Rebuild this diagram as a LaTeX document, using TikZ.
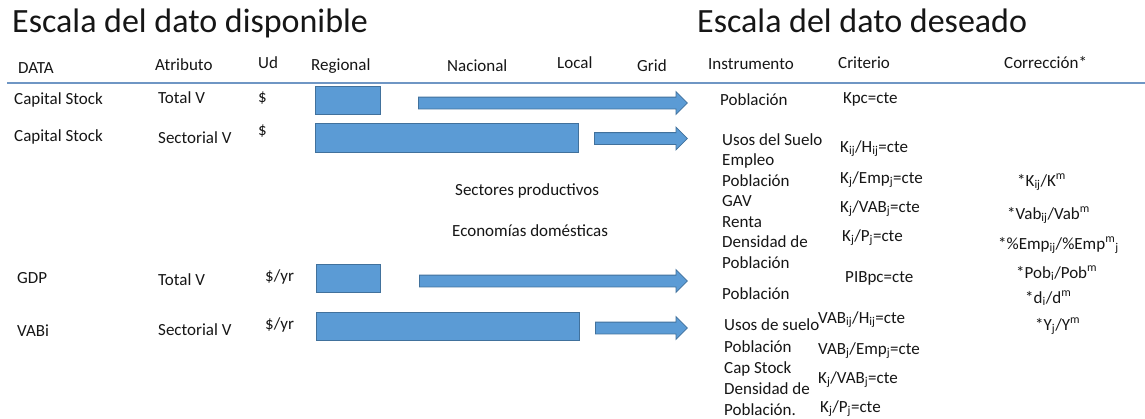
\documentclass[tikz,border=0pt]{standalone}
\usepackage{fontspec}
\setmainfont{Carlito}
\usetikzlibrary{shapes.arrows}
\definecolor{BarFill}{HTML}{5B9BD5}
\definecolor{BarEdge}{HTML}{41719C}
\definecolor{RuleBlue}{HTML}{6F96C4}
\definecolor{TextDark}{HTML}{161616}
\tikzset{
  ttl/.style={anchor=base west, inner sep=0pt, font=\fontsize{34}{37}\selectfont, text=TextDark},
  lbl/.style={anchor=base west, inner sep=0pt, font=\fontsize{17}{20}\selectfont, text=TextDark},
  bar/.style={draw=BarEdge, fill=BarFill, line width=0.8pt, anchor=north west, inner sep=0pt},
  barrow/.style={single arrow, draw=BarEdge, fill=BarFill, line width=0.8pt, anchor=tail,
    inner xsep=0pt, inner ysep=5.5pt, single arrow head extend=5.5pt,
    single arrow tip angle=90, single arrow head indent=0pt},
  rule/.style={draw=RuleBlue, line width=1.5pt},
}

\begin{document}
\begin{tikzpicture}[x=1pt, y=-1pt]
    \useasboundingbox[fill=white] (0,0) rectangle (1145,418);
    % titles
    \node[ttl] (tdisp) at (12,32) {Escala del dato disponible};
    \node[ttl] (tdes) at (697,32) {Escala del dato deseado};
    % header row
    \node[lbl] (hdata) at (18,73) {DATA};
    \node[lbl] (hattr) at (155,70) {Atributo};
    \node[lbl] (hud) at (258,68) {Ud};
    \node[lbl] (hreg) at (311,70) {Regional};
    \node[lbl] (hnac) at (447,71) {Nacional};
    \node[lbl] (hloc) at (557,68) {Local};
    \node[lbl] (hgrid) at (637,71) {Grid};
    \node[lbl] (hinst) at (708,69) {Instrumento};
    \node[lbl] (hcrit) at (838,68) {Criterio};
    \node[lbl] (hcorr) at (1004,68) {Corrección*};
    \coordinate (rulel) at (7,83);
    \coordinate (ruler) at (1145,83);
    \draw[rule] (rulel) -- (ruler);
    % row 1: capital stock, total
    \node[lbl] (d1) at (14,104) {Capital Stock};
    \node[lbl] (a1) at (158,103) {Total V};
    \node[lbl] (u1) at (258,102) {\$};
    \node[bar, minimum width=65pt, minimum height=28pt] (bar1) at (315,86) {};
    \node[barrow, minimum height=269pt] (arr1) at (418,103) {};
    \node[lbl] (i1) at (720,105) {Población};
    \node[lbl] (c1) at (843,103) {Kpc=cte};
    % row 2: capital stock, sectorial
    \node[lbl] (d2) at (14,141) {Capital Stock};
    \node[lbl] (a2) at (158,143) {Sectorial V};
    \node[lbl] (u2) at (258,135) {\$};
    \node[bar, minimum width=263pt, minimum height=29pt] (bar2) at (315,123) {};
    \node[barrow, minimum height=93pt] (arr2) at (594,138.5) {};
    \node[lbl] (i2a) at (722,145) {Usos del Suelo};
    \node[lbl] (i2b) at (722,165) {Empleo};
    \node[lbl] (i2c) at (722,186) {Población};
    \node[lbl] (i2d) at (722,206) {GAV};
    \node[lbl] (i2e) at (722,227) {Renta};
    \node[lbl] (i2f) at (722,247) {Densidad de};
    \node[lbl] (i2g) at (722,268) {Población};
    \node[lbl] (c2a) at (840,152) {K\textsubscript{ij}/H\textsubscript{ij}=cte};
    \node[lbl] (c2b) at (840,183) {K\textsubscript{j}/Emp\textsubscript{j}=cte};
    \node[lbl] (c2c) at (840,212) {K\textsubscript{j}/VAB\textsubscript{j}=cte};
    \node[lbl] (c2d) at (842,241) {K\textsubscript{j}/P\textsubscript{j}=cte};
    \node[lbl] (sprod) at (455,195) {Sectores productivos};
    \node[lbl] (ecdom) at (452,236) {Economías domésticas};
    % row 3: gdp, total
    \node[lbl] (d3) at (17,283) {GDP};
    \node[lbl] (a3) at (158,285) {Total V};
    \node[lbl] (u3) at (265,281) {\$/yr};
    \node[bar, minimum width=64pt, minimum height=28pt] (bar3) at (316,264) {};
    \node[barrow, minimum height=268pt] (arr3) at (419,281) {};
    \node[lbl] (c3) at (845,282) {PIBpc=cte};
    \node[lbl] (i3) at (722,299) {Población};
    % row 4: vab, sectorial
    \node[lbl] (d4) at (17,336) {VABi};
    \node[lbl] (a4) at (158,335) {Sectorial V};
    \node[lbl] (u4) at (265,329) {\$/yr};
    \node[bar, minimum width=263pt, minimum height=28pt] (bar4) at (316,312) {};
    \node[barrow, minimum height=92pt] (arr4) at (595,328) {};
    \node[lbl] (i4a) at (724,330) {Usos de suelo};
    \node[lbl] (i4b) at (724,352) {Población};
    \node[lbl] (i4c) at (724,373) {Cap Stock};
    \node[lbl] (i4d) at (724,394) {Densidad de};
    \node[lbl] (i4e) at (724,415) {Población.};
    \node[lbl] (c4a) at (818,323) {VAB\textsubscript{ij}/H\textsubscript{ij}=cte};
    \node[lbl] (c4b) at (818,354) {VAB\textsubscript{j}/Emp\textsubscript{j}=cte};
    \node[lbl] (c4c) at (818,383) {K\textsubscript{j}/VAB\textsubscript{j}=cte};
    \node[lbl] (c4d) at (820,412) {K\textsubscript{j}/P\textsubscript{j}=cte};
    % corrections
    \node[lbl] (k1) at (1017,186) {*K\textsubscript{ij}/K\textsuperscript{m}};
    \node[lbl] (k2) at (1007,219) {*Vab\textsubscript{ij}/Vab\textsuperscript{m}};
    \node[lbl] (k3) at (998,249) {*\%Emp\textsubscript{ij}/\%Emp\textsuperscript{m}\textsubscript{j}};
    \node[lbl] (k4) at (1016,278) {*Pob\textsubscript{i}/Pob\textsuperscript{m}};
    \node[lbl] (k5) at (1025,303) {*d\textsubscript{i}/d\textsuperscript{m}};
    \node[lbl] (k6) at (1035,330) {*Y\textsubscript{j}/Y\textsuperscript{m}};
\end{tikzpicture}
\end{document}
